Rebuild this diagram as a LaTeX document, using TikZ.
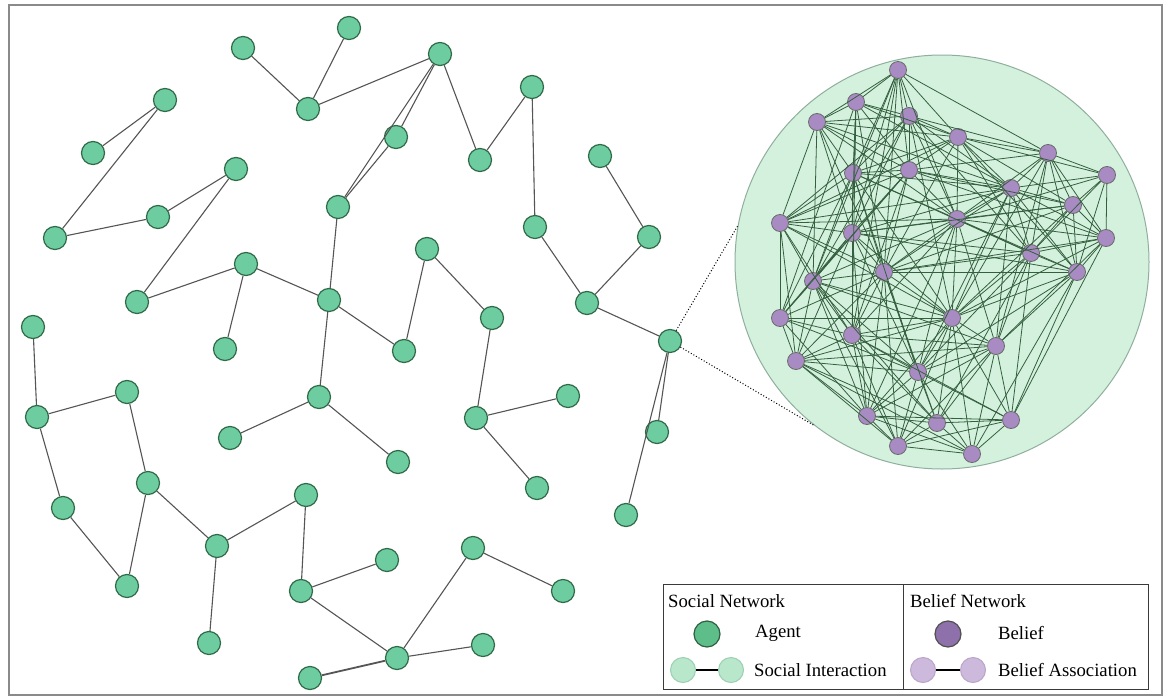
\documentclass[tikz,border=0pt]{standalone}
\usepackage{fontspec}
\setmainfont{Liberation Serif}
\definecolor{agentfill}{HTML}{6ECDA0}
\definecolor{agentline}{HTML}{2F6B47}
\definecolor{socedge}{HTML}{555555}
\definecolor{belfill}{HTML}{A98BC3}
\definecolor{belline}{HTML}{6A6A6A}
\definecolor{beledge}{HTML}{35603F}
\definecolor{bcfill}{HTML}{D4F1DE}
\definecolor{bcline}{HTML}{8FAF9C}
\definecolor{framec}{HTML}{8A8A8A}
\definecolor{lgagent}{HTML}{5DBE8A}
\definecolor{lgagentline}{HTML}{2F5F40}
\definecolor{lgbel}{HTML}{8E70AA}
\definecolor{lgbelline}{HTML}{505050}
\definecolor{lgagentlt}{HTML}{B9E7CB}
\definecolor{lgagentltline}{HTML}{9CCFB0}
\definecolor{lgbellt}{HTML}{CDB9DC}
\definecolor{lgbelltline}{HTML}{B9A5C9}
\definecolor{lgframe}{HTML}{3A3A3A}
\begin{document}
\begin{tikzpicture}[x=1pt,y=-1pt,
  agent/.style={circle,draw=agentline,fill=agentfill,line width=1.2pt,minimum size=23pt,inner sep=0pt},
  belief/.style={circle,draw=belline,fill=belfill,line width=0.8pt,minimum size=17pt,inner sep=0pt},
  soc/.style={draw=socedge,line width=1.1pt},
  bel/.style={draw=beledge,line width=0.8pt},
  lbl/.style={anchor=west,inner sep=0pt,font=\fontsize{18.7}{22}\selectfont}]
\useasboundingbox (0,0) rectangle (1168,696);
\fill[white] (0,0) rectangle (1168,696);
\draw[framec,line width=1.5pt] (9,5) rectangle (1162,695);

% belief circle
\node[circle,draw=bcline,fill=bcfill,line width=1pt,minimum size=414pt,inner sep=0pt] (bc) at (942,262) {};

% social network agents
\foreach \n/\x/\y in {1/243/48,2/349/28,3/308/109,4/165/100,5/93/153,6/236/169,7/158/217,8/55/238,
  9/396/137,10/338/207,11/246/264,12/137/302,13/329/300,14/33/327,15/225/349,16/440/54,17/532/87,
  18/480/160,19/600/156,20/535/227,21/649/237,22/427/249,23/492/318,24/587/303,25/670/341,26/404/351,
  27/37/417,28/127/392,29/319/397,30/230/438,31/398/462,32/148/483,33/63/508,34/306/495,35/217/546,
  36/127/586,37/387/560,38/301/591,39/209/643,40/397/658,41/310/678,42/568/396,43/476/418,44/537/488,
  45/657/432,46/626/515,47/473/548,48/563/591,49/483/645}
  \node[agent] (a\n) at (\x,\y) {};

\foreach \a/\b in {1/3,2/3,3/16,4/5,4/8,8/7,7/6,6/12,12/11,11/15,11/13,13/10,10/9,10/16,9/16,16/18,
  18/17,17/20,20/24,24/21,21/19,24/25,22/23,22/26,13/26,13/29,14/27,27/28,27/33,28/32,32/36,33/36,
  32/35,35/34,35/39,34/38,38/37,38/40,40/47,40/49,47/48,29/30,29/31,23/43,43/42,43/44,25/45,25/46}
  \draw[soc] (a\a) -- (a\b);
\draw[socedge,line width=1.8pt] (a40) -- (a41);

% dotted zoom lines
\draw[black,dotted,line width=1pt] (a25) -- (bc.170.6);
\draw[black,dotted,line width=1pt] (a25) -- (bc.232);

% belief nodes
\foreach \n/\x/\y in {1/898/70,2/856/102,3/817/122,4/909/116,5/958/137,6/1048/153,7/1107/175,
  8/853/173,9/909/170,10/1011/188,11/1073/205,12/780/223,13/957/219,14/852/233,15/1106/238,
  16/1031/253,17/884/272,18/813/281,19/1077/272,20/780/318,21/952/318,22/852/335,23/996/346,
  24/796/361,25/918/372,26/867/416,27/937/423,28/1011/420,29/898/446,30/972/454}
  \node[belief] (p\n) at (\x,\y) {};

\foreach \a/\l in {1/{2,3,4,5,6,8,9,13,14,17,18,22},
  2/{3,4,5,8,9,10,14,17,20,22},
  3/{4,5,8,9,10,12,13,14,17,18},
  4/{5,6,8,9,10,12,13,14,16,18,21},
  5/{6,7,8,9,10,11,12,13,16,17,19},
  6/{7,9,10,11,13,15,16,19,21,23},
  7/{10,11,13,15,16,19},
  8/{9,10,12,13,14,16,17,18,20,21,25},
  9/{10,11,12,13,14,15,17,18,20,22},
  10/{11,12,13,14,15,16,17,19,21,23,25},
  11/{13,14,15,16,17,19,21},
  12/{13,14,17,18,20,21,22,24},
  13/{14,15,16,17,18,19,21,22,23,25,26},
  14/{16,17,18,19,20,21,22,24,25,26},
  15/{16,17,19,21,23,28},
  16/{17,19,21,23,25,27,28},
  17/{18,19,20,21,22,24,25,26,27,29},
  18/{20,21,22,23,24,25,26,27,29},
  19/{21,23,25,28,30},
  20/{21,22,24,25,26},
  21/{22,23,24,25,26,27,28,29,30},
  22/{23,24,25,26,27,28,29},
  23/{24,25,26,27,28,29,30},
  24/{25,26,27,29,30},
  25/{26,27,28,29,30},
  26/{27,28,29,30},
  27/{28,29,30},
  28/{29,30},
  29/{30}}
  {\foreach \b in \l {\draw[bel] (p\a) -- (p\b);}}

% legend
\draw[lgframe,line width=1pt] (663,584) rectangle (1148,689);
\draw[lgframe,line width=1pt] (903,584) -- (903,689);
\node[lbl] (t1) at (668,601) {Social Network};
\node[lbl] (t2) at (910,601) {Belief Network};
\node[circle,draw=lgagentline,fill=lgagent,line width=1.2pt,minimum size=26pt,inner sep=0pt] (lga) at (707,634) {};
\node[lbl] (t3) at (755,633) {Agent};
\node[circle,draw=lgbelline,fill=lgbel,line width=1.2pt,minimum size=26pt,inner sep=0pt] (lgb) at (948,634) {};
\node[lbl] (t4) at (998,633) {Belief};
\node[circle,draw=lgagentltline,fill=lgagentlt,line width=1pt,minimum size=25pt,inner sep=0pt] (lgs1) at (683,670) {};
\node[circle,draw=lgagentltline,fill=lgagentlt,line width=1pt,minimum size=25pt,inner sep=0pt] (lgs2) at (731,670) {};
\draw[black,line width=1.5pt] (lgs1) -- (lgs2);
\node[lbl] (t5) at (754,670) {Social Interaction};
\node[circle,draw=lgbelltline,fill=lgbellt,line width=1pt,minimum size=25pt,inner sep=0pt] (lgp1) at (923,670) {};
\node[circle,draw=lgbelltline,fill=lgbellt,line width=1pt,minimum size=25pt,inner sep=0pt] (lgp2) at (973,670) {};
\draw[black,line width=1.5pt] (lgp1) -- (lgp2);
\node[lbl] (t6) at (998,670) {Belief Association};
\end{tikzpicture}
\end{document}
